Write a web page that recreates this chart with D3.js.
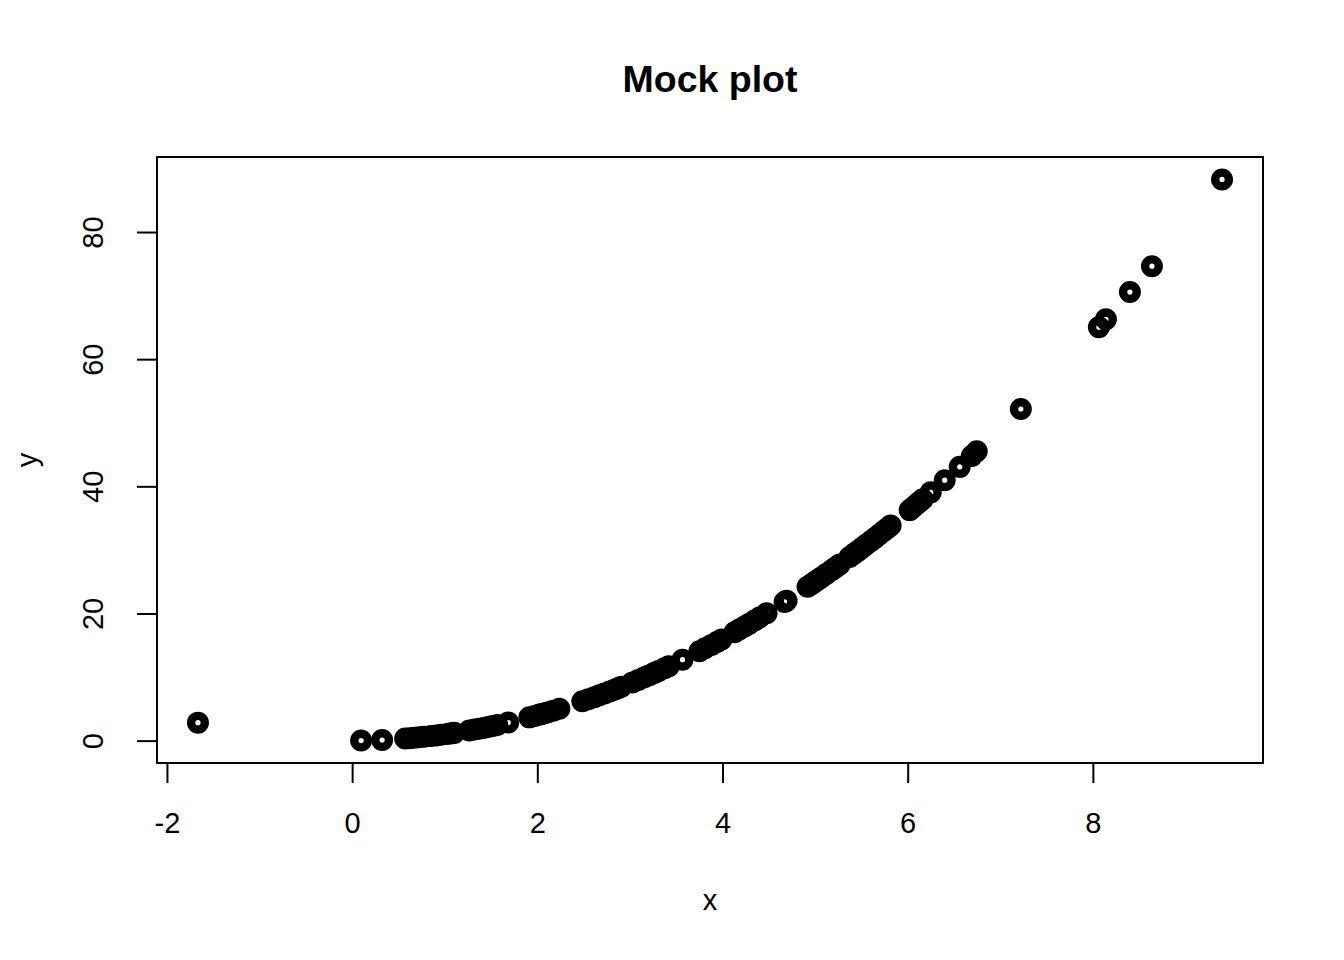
<!DOCTYPE html>
<html><head><meta charset="utf-8">
<script src="https://cdn.jsdelivr.net/npm/d3@7"></script>
<style>body{margin:0;background:#fff}svg{display:block}text{font-family:"Liberation Sans",Arial,sans-serif;fill:#000}</style>
</head><body>
<svg id="chart" width="1344" height="960"></svg>
<script>
const xValues = [-1.665, 0.097, 0.324, 0.573, 0.620, 0.670, 0.720, 0.778, 0.850, 0.908, 0.960, 1.027, 1.070, 1.103,
  1.265, 1.320, 1.373, 1.430, 1.481, 1.520, 1.568, 1.686, 1.914, 1.970, 2.022, 2.060, 2.108, 2.170, 2.238,
  2.486, 2.550, 2.616, 2.670, 2.724, 2.780, 2.832, 2.870, 2.908, 3.027, 3.090, 3.157, 3.210, 3.265, 3.310, 3.373, 3.420, 3.568,
  3.751, 3.810, 3.881, 3.940, 3.989, 4.130, 4.180, 4.238, 4.290, 4.346, 4.400, 4.476, 4.670, 4.692,
  4.919, 4.960, 4.995, 5.030, 5.070, 5.120, 5.178, 5.220, 5.265, 5.373, 5.420, 5.459, 5.500, 5.546, 5.600,
  5.643, 5.690, 5.741, 5.780, 5.816,
  6.022, 6.060, 6.097, 6.130, 6.162, 6.249, 6.400, 6.562, 6.692, 6.746, 7.222,
  8.065, 8.141, 8.400, 8.638, 9.395];
const yValues = [2.83, 0.01, 0.10, 0.33, 0.38, 0.45, 0.52, 0.60, 0.72, 0.82, 0.92, 1.05, 1.14, 1.22,
  1.60, 1.74, 1.88, 2.04, 2.19, 2.31, 2.46, 2.84, 3.66, 3.88, 4.09, 4.24, 4.44, 4.71, 5.01,
  6.18, 6.50, 6.84, 7.13, 7.42, 7.73, 8.02, 8.24, 8.46, 9.16, 9.55, 9.97, 10.30, 10.66, 10.96, 11.38, 11.70, 12.73,
  14.07, 14.52, 15.06, 15.52, 15.91, 17.06, 17.47, 17.96, 18.40, 18.89, 19.36, 20.04, 21.81, 22.01,
  24.20, 24.60, 24.95, 25.30, 25.71, 26.20, 26.81, 27.25, 27.72, 28.87, 29.38, 29.80, 30.25, 30.76, 31.36,
  31.84, 32.38, 32.96, 33.40, 33.83,
  36.26, 36.72, 37.17, 37.58, 37.97, 39.05, 40.96, 43.06, 44.78, 45.51, 52.16,
  65.04, 66.28, 70.56, 74.62, 88.27];
const xTicks = [-2, 0, 2, 4, 6, 8];
const xTickLabels = ["-2", "0", "2", "4", "6", "8"];
const yTicks = [0, 20, 40, 60, 80];
const yTickLabels = ["0", "20", "40", "60", "80"];
const titleText = "Mock plot", xLabel = "x", yLabel = "y";

const svg = d3.select("#chart");
const L = 157, R = 1263, T = 157, B = 763;
const pad = (e) => { const r = e[1]-e[0]; return [e[0]-0.04*r, e[1]+0.04*r]; };
const x = d3.scaleLinear().domain(pad(d3.extent(xValues))).range([L, R]);
const y = d3.scaleLinear().domain(pad(d3.extent(yValues))).range([B, T]);

// points
const pts = xValues.map((v,i)=>({x:v,y:yValues[i]}));
svg.append("g").selectAll("circle").data(pts).join("circle")
  .attr("cx", d=>x(d.x)).attr("cy", d=>y(d.y)).attr("r", 6.8)
  .attr("fill","none").attr("stroke","#000").attr("stroke-width", 8.4);

// box
svg.append("rect").attr("x",L).attr("y",T).attr("width",R-L).attr("height",B-T)
  .attr("fill","none").attr("stroke","#000").attr("stroke-width",2);

// x axis
const xa = svg.append("g").attr("transform",`translate(0,${B})`)
  .call(d3.axisBottom(x).tickValues(xTicks).tickSize(20).tickFormat((d,i)=>xTickLabels[i]));
xa.select(".domain").attr("d", `M${x(xTicks[0])},0H${x(xTicks[xTicks.length-1])}`).attr("stroke-width",2);
xa.selectAll(".tick line").attr("stroke-width",2);
xa.selectAll(".tick text").attr("font-size",29).attr("dy",null).attr("y",70)
  .style("font-family","'Liberation Sans',Arial,sans-serif").attr("fill","#000");

// y axis
const ya = svg.append("g").attr("transform",`translate(${L},0)`)
  .call(d3.axisLeft(y).tickValues(yTicks).tickSize(20).tickFormat((d,i)=>yTickLabels[i]));
ya.select(".domain").attr("d", `M0,${y(yTicks[0])}V${y(yTicks[yTicks.length-1])}`).attr("stroke-width",2);
ya.selectAll(".tick line").attr("stroke-width",2);
ya.selectAll(".tick text").attr("font-size",29).attr("x",null).attr("dy",null)
  .attr("text-anchor","middle").attr("transform","translate(-54,0) rotate(-90)")
  .style("font-family","'Liberation Sans',Arial,sans-serif").attr("fill","#000");

// titles
svg.append("text").attr("x",(L+R)/2).attr("y",92).attr("text-anchor","middle")
  .attr("font-size",37.5).attr("font-weight","bold").text(titleText);
svg.append("text").attr("x",(L+R)/2).attr("y",910).attr("text-anchor","middle")
  .attr("font-size",29).text(xLabel);
svg.append("text").attr("transform",`translate(37,${(T+B)/2}) rotate(-90)`).attr("text-anchor","middle")
  .attr("font-size",29).text(yLabel);
</script>
</body></html>
